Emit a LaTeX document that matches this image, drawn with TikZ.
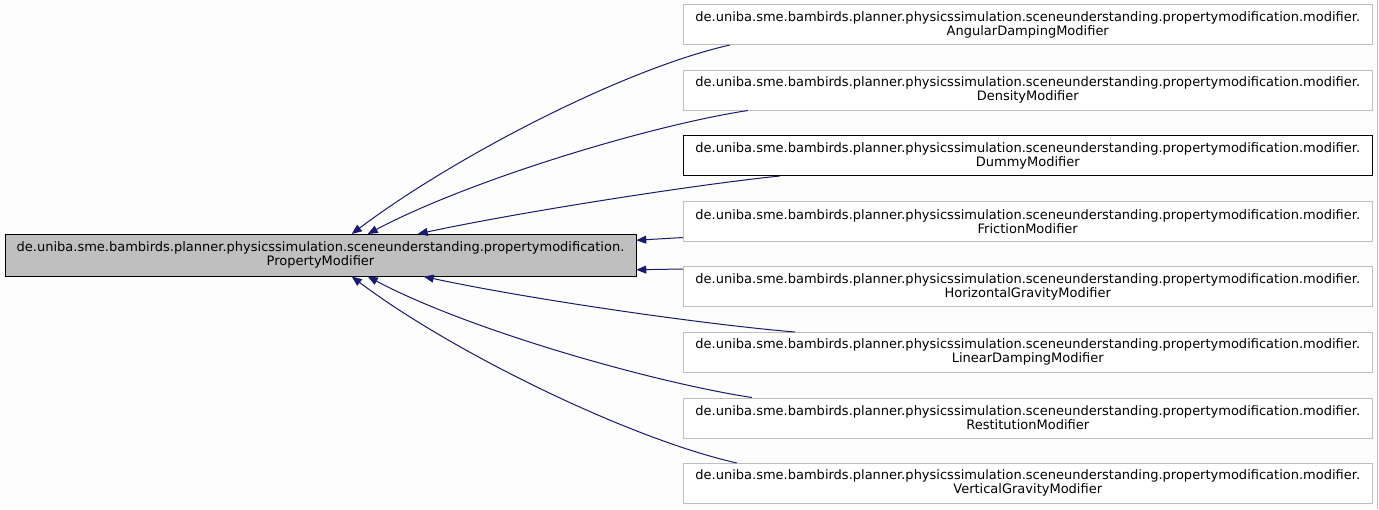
\documentclass[tikz,border=0pt]{standalone}
\usepackage{fontspec}
\setmainfont{DejaVu Sans}
\usepackage{xcolor}
\usepackage{tikz}
\usetikzlibrary{positioning, arrows.meta}

\definecolor{edgeblue}{HTML}{191970}
\definecolor{boxgray}{HTML}{BFBFBF}
\definecolor{pagebg}{HTML}{FCFDFC}

\begin{document}
\begin{tikzpicture}[
  x=0.75pt, y=-0.75pt,
  node distance=18.725pt,
  every node/.style={font=\fontsize{9.75}{10.5}\selectfont},
  base/.style={draw, fill=boxgray, minimum height=31.5pt, minimum width=473.25pt,
               align=center, inner sep=0pt},
  cls/.style={draw=boxgray, fill=white, minimum height=30pt, minimum width=517.1pt,
              align=center, inner sep=0pt},
  arrow/.style={{Triangle[length=7.5pt, width=6pt]}-, edgeblue, line width=0.75pt},
]

% Page
\fill[pagebg] (0,0) rectangle (1379,509);
\draw[boxgray] (1377.5,0) -- (1377.5,509);

% Base class
\node[base] (base) at (320.5,255)
  {de.uniba.sme.bambirds.planner.physicssimulation.sceneunderstanding.propertymodification.\\
   PropertyModifier};

% Derived classes
\node[cls] (angular) at (1027.75,24.5)
  {de.uniba.sme.bambirds.planner.physicssimulation.sceneunderstanding.propertymodification.modifier.\\
   AngularDampingModifier};
\node[cls, below=of angular] (density)
  {de.uniba.sme.bambirds.planner.physicssimulation.sceneunderstanding.propertymodification.modifier.\\
   DensityModifier};
\node[cls, draw=black, below=of density] (dummy)
  {de.uniba.sme.bambirds.planner.physicssimulation.sceneunderstanding.propertymodification.modifier.\\
   DummyModifier};
\node[cls, below=of dummy] (friction)
  {de.uniba.sme.bambirds.planner.physicssimulation.sceneunderstanding.propertymodification.modifier.\\
   FrictionModifier};
\node[cls, below=of friction] (hgravity)
  {de.uniba.sme.bambirds.planner.physicssimulation.sceneunderstanding.propertymodification.modifier.\\
   HorizontalGravityModifier};
\node[cls, below=of hgravity] (linear)
  {de.uniba.sme.bambirds.planner.physicssimulation.sceneunderstanding.propertymodification.modifier.\\
   LinearDampingModifier};
\node[cls, below=of linear] (restitution)
  {de.uniba.sme.bambirds.planner.physicssimulation.sceneunderstanding.propertymodification.modifier.\\
   RestitutionModifier};
\node[cls, below=of restitution] (vgravity)
  {de.uniba.sme.bambirds.planner.physicssimulation.sceneunderstanding.propertymodification.modifier.\\
   VerticalGravityModifier};

% Inheritance arrows
\draw[arrow] ([shift={(347,0)}]base.north west)
  .. controls +(98,-74) and +(-110,25) .. ([shift={(47,0)}]angular.south west);
\draw[arrow] ([shift={(363,0)}]base.north west)
  .. controls +(102,-54) and +(-98,15) .. ([shift={(65,0)}]density.south west);
\draw[arrow] ([shift={(413,0)}]base.north west)
  .. controls +(102,-22) and +(-80,8) .. ([shift={(97,0)}]dummy.south west);
\draw[arrow] ([shift={(0,-15)}]base.east) -- ([shift={(0,-4)}]friction.south west);
\draw[arrow] ([shift={(0,14.5)}]base.east) -- ([shift={(0,2.5)}]hgravity.north west);
\draw[arrow] ([shift={(419,0)}]base.south west)
  .. controls +(102,22) and +(-95,-8) .. ([shift={(112,0)}]linear.north west);
\draw[arrow] ([shift={(363,0)}]base.south west)
  .. controls +(102,54) and +(-98,-15) .. ([shift={(69,0)}]restitution.north west);
\draw[arrow] ([shift={(347,0)}]base.south west)
  .. controls +(98,74) and +(-110,-25) .. ([shift={(54,0)}]vgravity.north west);

\end{tikzpicture}
\end{document}
